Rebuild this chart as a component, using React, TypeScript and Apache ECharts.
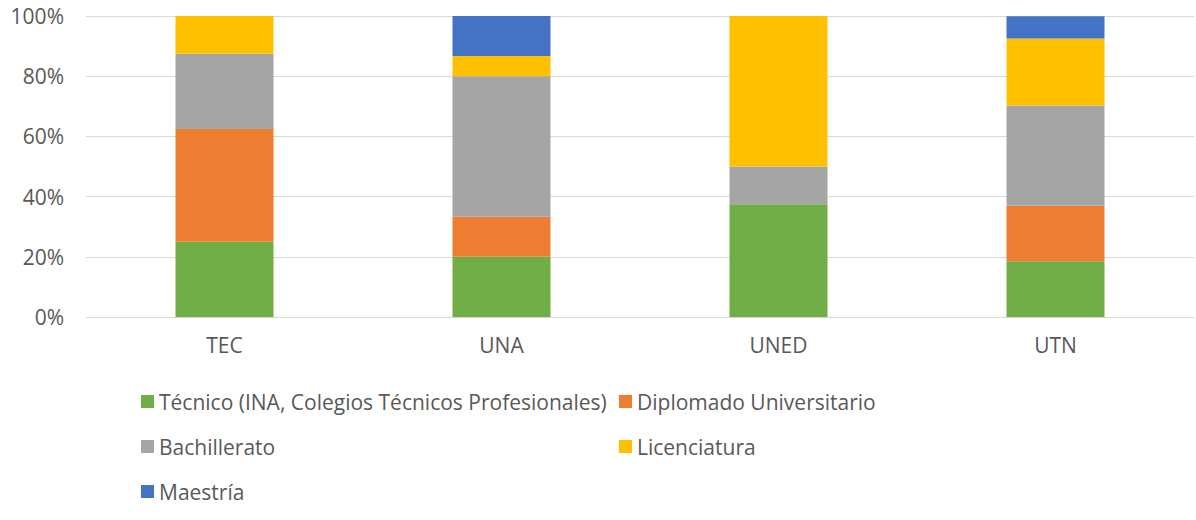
import React, { useEffect, useRef } from "react";
import * as echarts from "echarts";

const categories = ["TEC", "UNA", "UNED", "UTN"];
const seriesNames = [
  "Técnico (INA, Colegios Técnicos Profesionales)",
  "Diplomado Universitario",
  "Bachillerato",
  "Licenciatura",
  "Maestría",
];
const tecnico = [25, 20, 37.5, 18.5];
const diplomado = [37.5, 13.3, 0, 18.5];
const bachillerato = [25, 46.7, 12.5, 33.3];
const licenciatura = [12.5, 6.7, 50, 22.2];
const maestria = [0, 13.3, 0, 7.4];
const colors = ["#70ad47", "#ed7d31", "#a5a5a5", "#ffc000", "#4472c4"];

const FONT = "'Open Sans', 'Noto Sans', sans-serif";

export default function App() {
  const ref = useRef<HTMLDivElement>(null);
  useEffect(() => {
    if (!ref.current) return;
    const chart = echarts.init(ref.current, undefined, { renderer: "svg" });
    const values = [tecnico, diplomado, bachillerato, licenciatura, maestria];
    const legendPos = [
      { left: 141, top: 391 },
      { left: 619, top: 391 },
      { left: 141, top: 436 },
      { left: 619, top: 436 },
      { left: 141, top: 481 },
    ];
    chart.setOption({
      animation: false,
      color: colors,
      grid: { left: 86, right: 2, top: 16, height: 301, containLabel: false },
      xAxis: {
        type: "category",
        data: categories,
        axisLine: { lineStyle: { color: "#d9d9d9", width: 1 } },
        axisTick: { show: false },
        axisLabel: { color: "#595959", fontSize: 21, fontFamily: FONT, margin: 17 },
      },
      yAxis: {
        type: "value",
        min: 0,
        max: 100,
        interval: 20,
        axisLine: { show: false },
        axisTick: { show: false },
        splitLine: { lineStyle: { color: "#d9d9d9", width: 1 } },
        axisLabel: {
          color: "#595959",
          fontSize: 21,
          fontFamily: FONT,
          margin: 22,
          formatter: (v: number) => v + "%",
        },
      },
      legend: seriesNames.map((n, i) => ({
        data: [n],
        left: legendPos[i].left,
        top: legendPos[i].top,
        icon: "rect",
        itemWidth: 13,
        itemHeight: 13,
        padding: 0,
        textStyle: { color: "#595959", fontSize: 21, fontFamily: FONT, lineHeight: 20 },
      })),
      series: seriesNames.map((n, i) => ({
        name: n,
        type: "bar",
        stack: "total",
        barWidth: 98,
        data: values[i],
        itemStyle: { color: colors[i] },
      })),
    });
    return () => chart.dispose();
  }, []);
  return (
    <div
      ref={ref}
      style={{ position: "absolute", left: 0, top: 0, width: 1196, height: 520 }}
    />
  );
}
